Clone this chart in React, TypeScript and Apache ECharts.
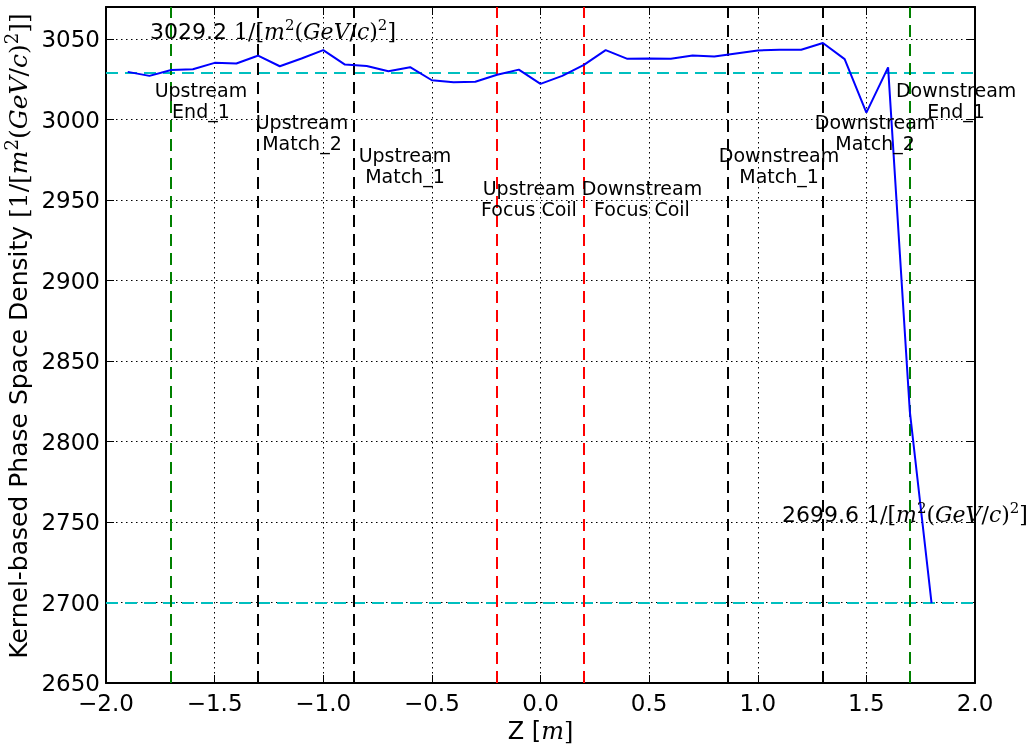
import React, { useEffect, useRef } from "react";
import * as echarts from "echarts";

const zValues = [-1.9, -1.8, -1.7, -1.6, -1.5, -1.4, -1.3, -1.2, -1.1, -1.0, -0.9, -0.8, -0.7, -0.6, -0.5, -0.4, -0.3, -0.2, -0.1, 0.0, 0.1, 0.2, 0.3, 0.4, 0.5, 0.6, 0.7, 0.8, 0.9, 1.0, 1.1, 1.2, 1.3, 1.4, 1.5, 1.6, 1.7, 1.8];
const density = [3029.7, 3027.2, 3030.9, 3031.3, 3035.3, 3034.9, 3039.8, 3033.2, 3038.0, 3043.2, 3034.2, 3033.4, 3030.1, 3032.6, 3024.5, 3023.3, 3023.6, 3027.9, 3031.1, 3022.2, 3027.2, 3034.0, 3043.2, 3037.8, 3038.0, 3037.8, 3039.8, 3039.2, 3041.1, 3043.0, 3043.4, 3043.4, 3047.6, 3037.6, 3004.4, 3032.5, 2818.7, 2699.6];

const refLevels = [3029.2, 2699.6];
const markerZ = [-1.7, -1.3, -0.86, -0.2, 0.2, 0.86, 1.3, 1.7];
const markerColors = ["#008000", "#000000", "#000000", "#ff0000", "#ff0000", "#000000", "#000000", "#008000"];
const markerNames = ["Upstream\nEnd_1", "Upstream\nMatch_2", "Upstream\nMatch_1", "Upstream\nFocus Coil", "Downstream\nFocus Coil", "Downstream\nMatch_1", "Downstream\nMatch_2", "Downstream\nEnd_1"];
const markerLabelZ = [-1.563, -1.098, -0.624, -0.053, 0.467, 1.098, 1.54, 1.913];
const markerLabelY = [3012, 2992, 2971.6, 2951, 2951, 2971.6, 2992, 3012];

const annotZ = [-1.797, 1.112];
const annotY = [3054.5, 2754.5];

const SANS = "DejaVu Sans";
const SERIF = "DejaVu Serif";

const unitRich = (size: number, mathSize: number, lh?: number) => {
  const l = lh || Math.round(mathSize * 1.25);
  return {
    a: { fontFamily: SANS, fontSize: size, color: "#000", lineHeight: l },
    r: { fontFamily: SERIF, fontSize: mathSize, color: "#000", lineHeight: l },
    i: { fontFamily: SERIF, fontSize: mathSize, fontStyle: "italic", color: "#000", lineHeight: l },
    s: { fontFamily: SERIF, fontSize: Math.round(mathSize * 0.7), color: "#000", lineHeight: Math.round(mathSize * 0.7), verticalAlign: "top" },
  };
};

const unitStr = "{r|1/[}{i|m}{s|2}{r|(}{i|GeV}{r|/}{i|c}{r|)}{s|2}{r|]}";

export default function App() {
  const ref = useRef<HTMLDivElement>(null);
  useEffect(() => {
    if (!ref.current) return;
    const chart = echarts.init(ref.current, null, { renderer: "svg" });
    const lineData = zValues.map((z, i) => [z, density[i]]);
    const markData: any[] = [];
    refLevels.forEach((v) => {
      markData.push({ yAxis: v, lineStyle: { color: "#00bfbf", width: 2, type: [12, 7] } });
    });
    markerZ.forEach((z, i) => {
      markData.push({ xAxis: z, lineStyle: { color: markerColors[i], width: 2, type: [12, 7] } });
    });
    const fmt = (v: number) => (v < 0 ? "\u2212" + Math.abs(v).toFixed(1) : v.toFixed(1));
    const axisCommon = {
      axisLine: { show: true, onZero: false, lineStyle: { color: "#000", width: 2 } },
      axisTick: { show: true, inside: true, length: 8, lineStyle: { color: "#000", width: 1 } },
    };
    chart.setOption({
      animation: false,
      grid: { left: 106, top: 7, right: 54, bottom: 61, containLabel: false, outerBoundsMode: "none" },
      xAxis: [
        {
          type: "value",
          min: -2,
          max: 2,
          interval: 0.5,
          position: "bottom",
          ...axisCommon,
          axisLabel: { formatter: fmt, fontFamily: SANS, fontSize: 23, color: "#000", margin: 8 },
          splitLine: { show: true, lineStyle: { color: "#000", width: 1, type: [1.5, 3.5] } },
          name: "{a|Z [}{i|m}{r|]}",
          nameLocation: "middle",
          nameGap: 25,
          nameTextStyle: { rich: unitRich(24, 24, 24), fontFamily: SANS, fontSize: 24, lineHeight: 24, color: "#000" },
        },
        {
          type: "value",
          min: -2,
          max: 2,
          interval: 0.5,
          position: "top",
          ...axisCommon,
          axisLabel: { show: false },
          splitLine: { show: false },
        },
      ],
      yAxis: [
        {
          type: "value",
          min: 2650,
          max: 3070,
          interval: 50,
          position: "left",
          ...axisCommon,
          axisLabel: { showMaxLabel: false, formatter: (v: number) => String(v), fontFamily: SANS, fontSize: 23, color: "#000", margin: 6 },
          splitLine: { show: true, lineStyle: { color: "#000", width: 1, type: [1.5, 3.5] } },
          name: "{a|Kernel-based Phase Space Density }{r|[}" + unitStr + "{r|]}",
          nameLocation: "middle",
          nameGap: 72,
          nameTextStyle: { rich: unitRich(25, 25), fontFamily: SANS, fontSize: 25, color: "#000", padding: [0, 0, 0, 18] },
        },
        {
          type: "value",
          min: 2650,
          max: 3070,
          interval: 50,
          position: "right",
          ...axisCommon,
          axisLabel: { show: false },
          splitLine: { show: false },
        },
      ],
      series: [
        {
          type: "line",
          data: lineData,
          symbol: "none",
          lineStyle: { color: "#0000ff", width: 2 },
          itemStyle: { color: "#0000ff" },
          z: 3,
          markLine: {
            silent: true,
            symbol: ["none", "none"],
            label: { show: false },
            data: markData,
            z: 2,
          },
        },
        {
          type: "scatter",
          symbolSize: 0,
          z: 4,
          silent: true,
          itemStyle: { opacity: 1 },
          data: markerLabelZ.map((z, i) => ({ value: [z, markerLabelY[i]], name: markerNames[i] })),
          label: {
            show: true,
            position: "inside",
            formatter: (p: any) => p.name,
            fontFamily: SANS,
            fontSize: 19,
            lineHeight: 21,
            color: "#000",
            opacity: 1,
            textBorderWidth: 0,
            align: "center",
          },
        },
        {
          type: "scatter",
          symbolSize: 0,
          z: 4,
          silent: true,
          itemStyle: { opacity: 1 },
          data: annotZ.map((z, i) => ({ value: [z, annotY[i]], name: refLevels[i].toFixed(1) })),
          label: {
            show: true,
            position: "right",
            distance: 0,
            color: "#000",
            opacity: 1,
            textBorderWidth: 0,
            formatter: (p: any) => "{a|" + p.name + " }" + unitStr,
            rich: unitRich(22, 22),
          },
        },
      ],
    });
    return () => chart.dispose();
  }, []);
  return <div ref={ref} style={{ position: "fixed", left: 0, top: 0, width: 1029, height: 744 }} />;
}
